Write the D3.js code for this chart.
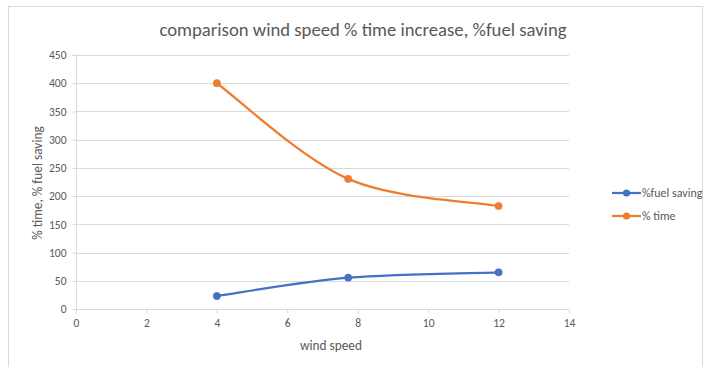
<!DOCTYPE html>
<html><head><meta charset="utf-8">
<script src="https://cdn.jsdelivr.net/npm/d3@7"></script>
<style>body{margin:0;background:#fff}svg{display:block}</style>
</head><body>
<script>
const windSpeed = [4, 7.73, 12];
const fuelSaving = [23, 55.5, 65];
const timeIncrease = [400, 230.5, 182.5];
const seriesNames = ["%fuel saving", "% time"];
const seriesColors = ["#4472C4", "#ED7D31"];
const xTicks = [0, 2, 4, 6, 8, 10, 12, 14];
const yTicks = [0, 50, 100, 150, 200, 250, 300, 350, 400, 450];
const titleText = "comparison wind speed % time increase, %fuel saving";
const xLabel = "wind speed";
const yLabel = "% time, % fuel saving";

const W = 705, H = 367;
const font = "Carlito, Calibri, Lato, 'Open Sans', sans-serif";
const svg = d3.select("body").append("svg").attr("width", W).attr("height", H);
svg.append("rect").attr("x", 8.5).attr("y", 6.5).attr("width", 694).attr("height", 380)
  .attr("fill", "#fff").attr("stroke", "#d9d9d9");

const x = d3.scaleLinear().domain([0, 14]).range([76, 569]);
const y = d3.scaleLinear().domain([0, 450]).range([309, 55]);

// gridlines
svg.append("g").selectAll("line").data(yTicks.filter(d => d > 0)).join("line")
  .attr("x1", x(0)).attr("x2", x(14)).attr("y1", d => Math.round(y(d)) + 0.5).attr("y2", d => Math.round(y(d)) + 0.5)
  .attr("stroke", "#d9d9d9");

const yAxis = svg.append("g").attr("transform", `translate(${x(0) + 0.5},0)`)
  .call(d3.axisLeft(y).tickValues(yTicks).tickSize(4).tickPadding(6).tickFormat(d3.format("d")));
const xAxis = svg.append("g").attr("transform", `translate(0,${y(0) + 0.5})`)
  .call(d3.axisBottom(x).tickValues(xTicks).tickSize(4).tickPadding(5).tickFormat(d3.format("d")));
[yAxis, xAxis].forEach(a => {
  a.select(".domain").attr("stroke", "#d9d9d9");
  a.selectAll(".tick line").attr("stroke", "#d9d9d9");
  a.selectAll("text").attr("fill", "#595959").style("font-family", font).style("font-size", "11.5px");
});
yAxis.select(".domain").attr("d", `M-4,${y(450)}H0V${y(0)}`);
xAxis.select(".domain").attr("d", `M${x(0)},0H${x(14)}`);

// Excel-style smoothed line: cubic Bezier with control points P_i ± (P_{i+1} - P_{i-1})/6
function smoothPath(pts) {
  const p = d3.path();
  const P = pts.map(d => [x(d[0]), y(d[1])]);
  p.moveTo(P[0][0], P[0][1]);
  for (let i = 0; i < P.length - 1; i++) {
    const a = P[i - 1] || P[i], b = P[i], c = P[i + 1], d = P[i + 2] || P[i + 1];
    p.bezierCurveTo(b[0] + (c[0] - a[0]) / 6, b[1] + (c[1] - a[1]) / 6,
                    c[0] - (d[0] - b[0]) / 6, c[1] - (d[1] - b[1]) / 6, c[0], c[1]);
  }
  return p.toString();
}

const series = [fuelSaving, timeIncrease];
series.forEach((vals, i) => {
  const pts = windSpeed.map((w, j) => [w, vals[j]]);
  svg.append("path").attr("d", smoothPath(pts)).attr("fill", "none")
    .attr("stroke", seriesColors[i]).attr("stroke-width", 2.25).attr("stroke-linecap", "round");
  svg.append("g").selectAll("circle").data(pts).join("circle")
    .attr("cx", d => x(d[0])).attr("cy", d => y(d[1])).attr("r", 3.6)
    .attr("fill", seriesColors[i]).attr("stroke", seriesColors[i]).attr("stroke-width", 0.75);
});

svg.append("text").attr("x", 363).attr("y", 36).attr("text-anchor", "middle")
  .attr("fill", "#595959").style("font-family", font).style("font-size", "18.7px").text(titleText);
svg.append("text").attr("x", 331).attr("y", 350).attr("text-anchor", "middle")
  .attr("fill", "#595959").style("font-family", font).style("font-size", "13.3px").text(xLabel);
svg.append("text").attr("transform", "translate(42,183) rotate(-90)").attr("text-anchor", "middle")
  .attr("fill", "#595959").style("font-family", font).style("font-size", "13.3px").text(yLabel);

const leg = svg.append("g");
seriesNames.forEach((n, i) => {
  const ly = 193 + i * 23;
  leg.append("line").attr("x1", 612).attr("x2", 641).attr("y1", ly).attr("y2", ly)
    .attr("stroke", seriesColors[i]).attr("stroke-width", 2.25);
  leg.append("circle").attr("cx", 626.5).attr("cy", ly).attr("r", 3.6).attr("fill", seriesColors[i]);
  leg.append("text").attr("x", 642).attr("y", ly + 4).attr("fill", "#595959")
    .style("font-family", font).style("font-size", "12px").text(n);
});
</script>
</body></html>
